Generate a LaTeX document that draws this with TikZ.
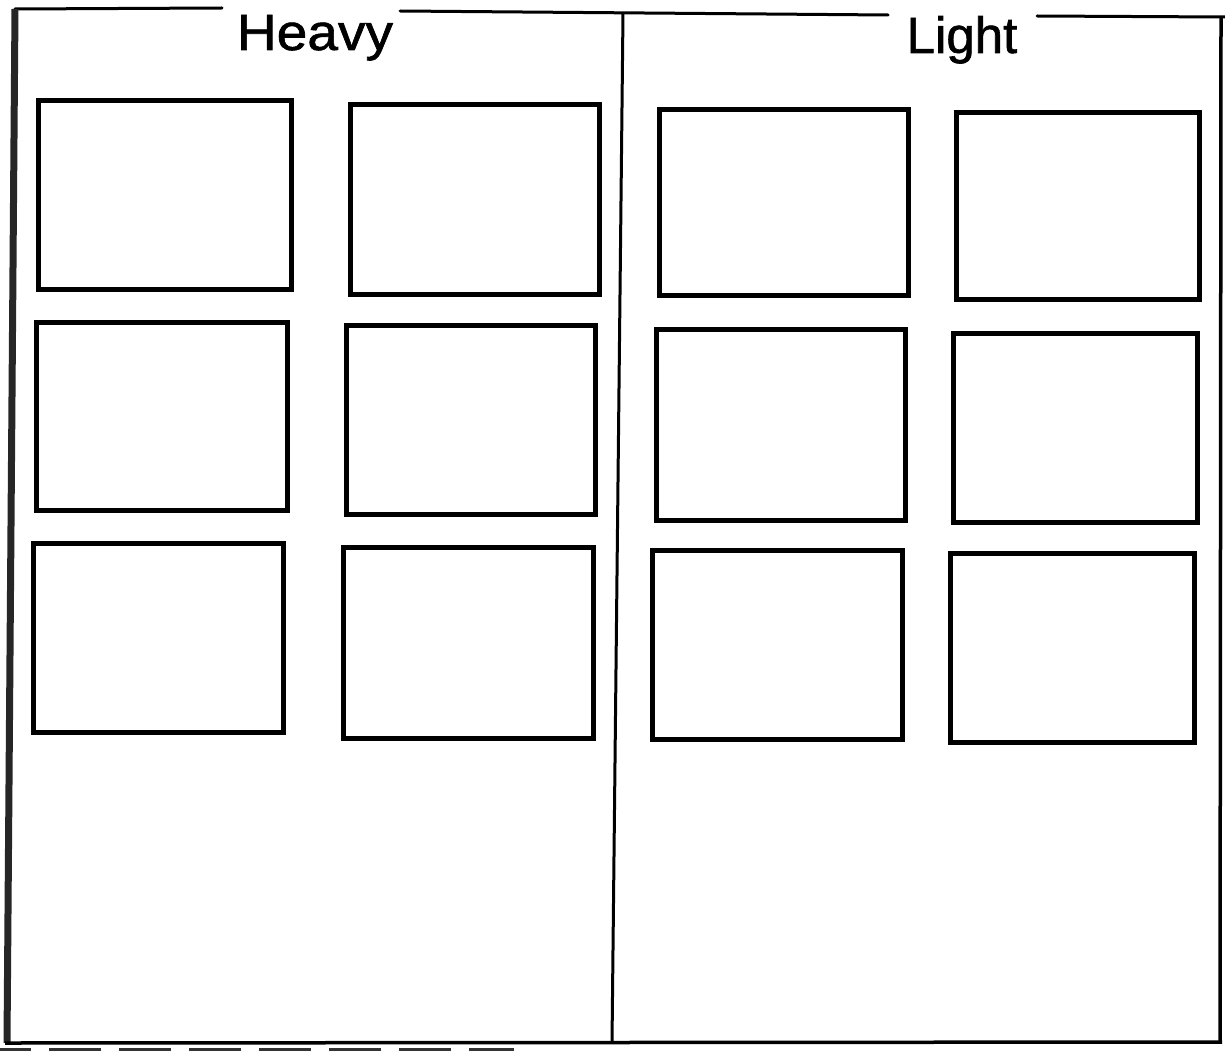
\documentclass[tikz,border=0pt]{standalone}
\usepackage{fontspec}
\setmainfont{Liberation Sans}[FakeBold=1.2]
\begin{document}
\begin{tikzpicture}[x=1pt,y=-1pt,
  frameline/.style={line width=3pt, black, line cap=round},
  thickedge/.style={line width=7pt, black!85},
  cell/.style={line width=5pt, black},
  title/.style={anchor=base, inner sep=0pt, font=\fontsize{51}{60}\selectfont}]
\useasboundingbox (0,0) rectangle (1225,1051);
% titles
\node[title, xscale=1.08] (heavy) at (315,50) {Heavy};
\node[title] (light) at (962,53) {Light};
% top line segments
\draw[frameline] (15,9) -- (222,8);
\draw[frameline] (400,11) -- (888,15);
\draw[frameline] (1037,16) -- (1225,17);
% left thick edge
\draw[thickedge] (15,9) -- (7,1043);
% divider
\draw[line width=3pt] (623,13) -- (612,1043);
% right edge
\draw[line width=3.5pt] (1221,17) -- (1220,1043);
% bottom line
\draw[line width=3.5pt] (5,1043) -- (1222,1042);
% dashes below
\draw[line width=5pt, black!80, dash pattern=on 52pt off 18pt, dash phase=21pt] (0,1050) -- (514,1050);
% cells, left panel
\draw[cell] (38.5,100.5) rectangle (291.5,289.5);
\draw[cell] (350.5,104.5) rectangle (599.5,294.5);
\draw[cell] (36.5,322.5) rectangle (287.5,510.5);
\draw[cell] (346.5,325.5) rectangle (595.5,514.5);
\draw[cell] (33.5,543.5) rectangle (283.5,732.5);
\draw[cell] (343.5,547.5) rectangle (593.5,738.5);
% cells, right panel
\draw[cell] (659.5,109.5) rectangle (908.5,295.5);
\draw[cell] (956.5,112.5) rectangle (1199.5,299.5);
\draw[cell] (656.5,329.5) rectangle (905.5,520.5);
\draw[cell] (953.5,333.5) rectangle (1197.5,522.5);
\draw[cell] (652.5,550.5) rectangle (902.5,739.5);
\draw[cell] (950.5,553.5) rectangle (1194.5,742.5);
\end{tikzpicture}
\end{document}
